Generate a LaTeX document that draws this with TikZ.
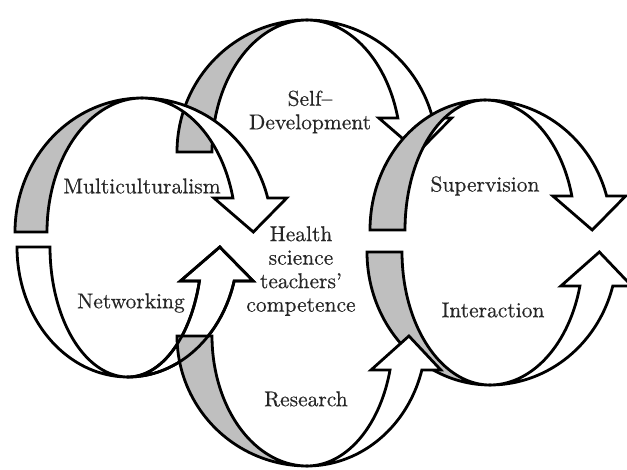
\documentclass[tikz,border=0pt]{standalone}
\usepackage{fontspec}
\newfontfamily\lblfont{lmroman10-regular}[Extension=.otf, Ligatures=TeX, FakeBold=0.45]
\colorlet{bandgray}{black!25}
\tikzset{
  band/.style={draw=black, line width=2.8pt, line join=miter},
  lbl/.style={text=black!85, font=\lblfont\fontsize{21.5}{23.5}\selectfont, align=center, inner sep=0pt},
}
% left half of a ribbon: cx cy s ry Ro Ri fill
\newcommand{\lband}[7]{%
  \filldraw[band, fill=#7]
    plot[domain=180:90, samples=45] ({#1+#5*cos(\x)},{#2+(#3)*#4*sin(\x)})
    -- plot[domain=90:180, samples=45] ({#1+#6*cos(\x)},{#2+(#3)*#4*sin(\x)})
    -- cycle;
}
% right half with arrow head: cx cy s ry Ro Ri extra style
\newcommand{\rband}[7]{%
  \pgfmathsetmacro{\te}{asin(34/#4)}
  \path[band, #7]
    plot[domain=90:\te, samples=45] ({#1+#5*cos(\x)},{#2+(#3)*#4*sin(\x)})
    -- ({#1+#5*cos(\te)+19},{#2+(#3)*34})
    -- ({#1+(#5+#6)/2*cos(\te)+3},{#2})
    -- ({#1+#6*cos(\te)-19},{#2+(#3)*34})
    -- plot[domain=\te:90, samples=45] ({#1+#6*cos(\x)},{#2+(#3)*#4*sin(\x)})
    -- cycle;
}
\begin{document}
\begin{tikzpicture}[x=1pt, y=-1pt]
\useasboundingbox (0,0) rectangle (627,469);
% Self-Development
\lband{307}{152}{-1}{132}{130}{95}{bandgray}
\rband{307}{152}{-1}{132}{130}{94}{fill=white}
% Multiculturalism
\lband{142}{232}{-1}{134}{127}{95}{bandgray}
\rband{142}{232}{-1}{134}{130}{94}{fill=white}
% Networking
\lband{128}{247}{1}{130}{111}{78}{white}
\rband{128}{247}{1}{130}{110}{74}{fill=white}
% Interaction
\lband{490}{252}{1}{133}{123}{88}{bandgray}
\rband{490}{252}{1}{133}{127}{93}{fill=white}
% Research
\lband{307}{336}{1}{130}{130}{95}{bandgray}
\rband{307}{336}{1}{130}{119}{86}{fill=white}
% Networking outline seen through the Research band
\rband{128}{247}{1}{130}{110}{74}{fill=none}
% Supervision
\lband{485}{230}{-1}{130}{115}{80}{bandgray}
\rband{485}{230}{-1}{130}{126}{90}{fill=white}
% labels
\node[lbl] (self) at (310,112) {Self–\\Development};
\node[lbl] (multi) at (142,186) {Multiculturalism};
\node[lbl] (net) at (131,303) {Networking};
\node[lbl] (health) at (301,271) {Health\\science\\teachers’\\competence};
\node[lbl] (res) at (306,399) {Research};
\node[lbl] (sup) at (485,186) {Supervision};
\node[lbl] (int) at (493,310) {Interaction};
\end{tikzpicture}
\end{document}
